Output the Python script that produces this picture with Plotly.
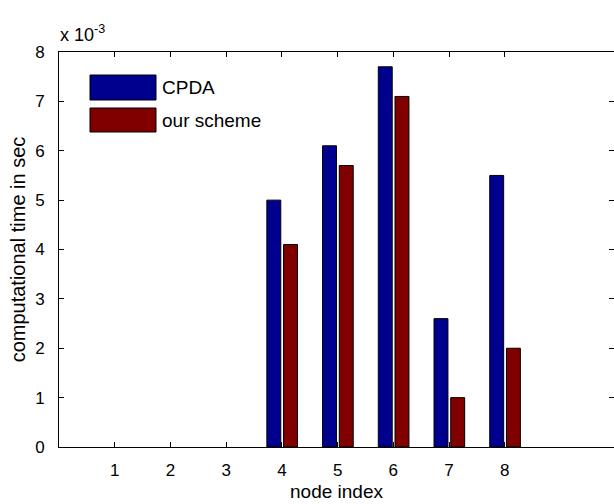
import plotly.graph_objects as go

# ---- data ----
nodes = [1, 2, 3, 4, 5, 6, 7, 8]
cpda = [0, 0, 0, 5.0, 6.1, 7.7, 2.6, 5.5]          # x 10^-3 sec
ours = [0, 0, 0, 4.1, 5.7, 7.1, 1.0, 2.0]          # x 10^-3 sec
series_names = ["CPDA", "our scheme"]
y_ticks = [0, 1, 2, 3, 4, 5, 6, 7, 8]

BLUE = "rgb(0,0,143)"
RED = "rgb(128,0,0)"
FONT = "Liberation Sans, Arial, sans-serif"

W, H = 614, 504
L, R, T, B = 59, 0, 52, 57

fig = go.Figure()
for vals, name, col, off in [(cpda, series_names[0], BLUE, -0.27), (ours, series_names[1], RED, 0.03)]:
    fig.add_trace(go.Bar(x=nodes, y=vals, name=name, width=0.25, offset=off,
                         marker=dict(color=col,
                                     line=dict(color="black", width=[1 if v > 0 else 0 for v in vals])),
                         showlegend=False))

# legend drawn MATLAB-style (large patches)
pw = W - L - R
ph = H - T - B
def fx(px):
    return (px - L) / pw
def fy(py):
    return (H - B - py) / ph

legend_items = [(series_names[0], BLUE, 75, 100), (series_names[1], RED, 108, 132)]
for name, col, y0, y1 in legend_items:
    fig.add_shape(type="rect", xref="x domain", yref="y domain",
                  x0=fx(90), x1=fx(156), y0=fy(y1), y1=fy(y0),
                  fillcolor=col, line=dict(color="black", width=1))
    fig.add_annotation(xref="x domain", yref="y domain", x=fx(160), y=fy((y0 + y1) / 2),
                       text=name, showarrow=False, xanchor="left", yanchor="middle",
                       font=dict(family=FONT, size=19, color="black"))

# exponent label
fig.add_annotation(xref="paper", yref="paper", x=0, y=1, yshift=5, xshift=-1,
                   text="x 10<sup>-3</sup>", showarrow=False, xanchor="left", yanchor="bottom",
                   font=dict(family=FONT, size=18, color="black"))

fig.update_layout(
    width=W, height=H, autosize=False,
    margin=dict(l=L, r=R, t=T, b=B, pad=0),
    paper_bgcolor="white", plot_bgcolor="white",
    barmode="overlay",
    font=dict(family=FONT, size=16, color="black"),
)
fig.update_xaxes(range=[0, 9.96], tickmode="array", tickvals=nodes, ticktext=[str(n) for n in nodes],
                 ticks="inside", ticklen=5, tickcolor="black", showline=True, linecolor="black",
                 linewidth=1, mirror="ticks", showgrid=False, zeroline=False,
                 ticklabelstandoff=8, tickfont=dict(size=17),
                 title=dict(text="node index", font=dict(family=FONT, size=19), standoff=5))
fig.update_yaxes(range=[0, 8], tickmode="array", tickvals=y_ticks, ticktext=[str(v) for v in y_ticks],
                 ticks="inside", ticklen=5, tickcolor="black", showline=True, linecolor="black",
                 linewidth=1, mirror="ticks", showgrid=False, zeroline=False,
                 ticklabelstandoff=10, tickfont=dict(size=17),
                 title=dict(text="computational time in sec", font=dict(family=FONT, size=20), standoff=4))

fig.write_html("out.html", config={"displayModeBar": False},
               post_script="document.body.style.margin='0';document.body.style.overflow='hidden';")
